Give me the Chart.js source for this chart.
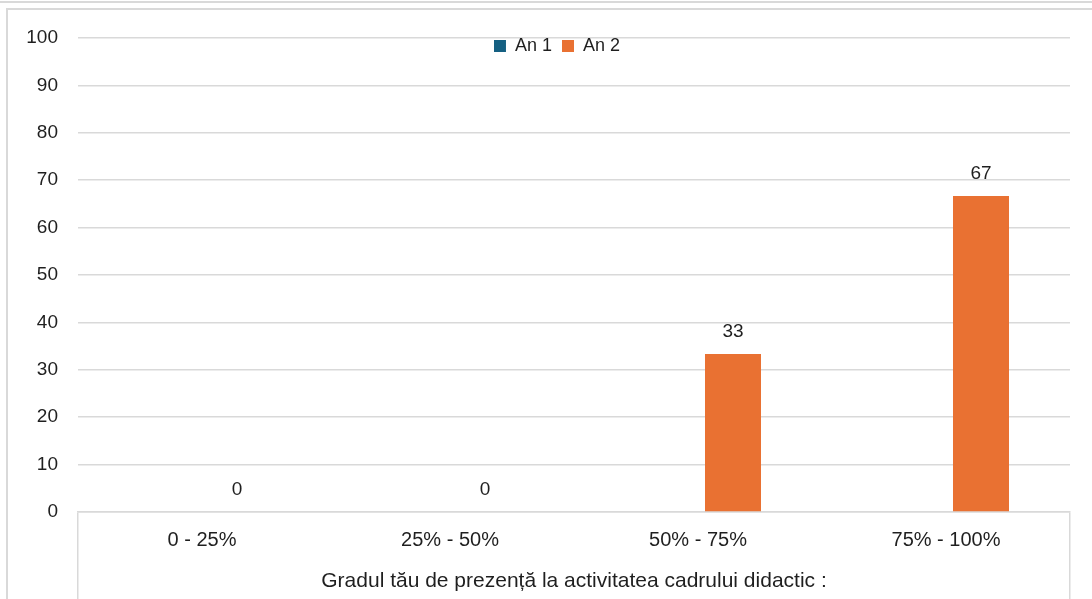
<!DOCTYPE html>
<html><head><meta charset="utf-8">
<script src="https://cdn.jsdelivr.net/npm/chart.js@4.4.1/dist/chart.umd.min.js"></script>
<style>
html,body{margin:0;padding:0;background:#fff;}
#wrap{position:relative;width:1092px;height:599px;overflow:hidden;background:#fff;}
#c{position:absolute;left:0;top:0;}
.line{position:absolute;background:#d9d9d9;pointer-events:none;}
</style></head><body>
<div id="wrap">
<canvas id="c" width="1092" height="599"></canvas>
<div class="line" style="left:0;top:1px;width:1092px;height:2px"></div>
<div class="line" style="left:6px;top:8px;width:1086px;height:2px"></div>
<div class="line" style="left:6px;top:8px;width:2px;height:591px"></div>
</div>
<script>
const categories = ['0 - 25%', '25% - 50%', '50% - 75%', '75% - 100%'];
const an1Values = [0, 0, 0, 0];
const an2Values = [0, 0, 33.33, 66.67];
const seriesNames = ['An 1', 'An 2'];
const axisTitle = 'Gradul tău de prezență la activitatea cadrului didactic :';
const yMin = 0, yMax = 100, yStep = 10;

const FONT = '"Liberation Sans", Arial, sans-serif';
const TEXT = '#1f1f1f';
const GRID = '#d9d9d9';

const legendShift = {
  id: 'legendShift',
  afterLayout(chart) {
    const lg = chart.legend;
    if (!lg) return;
    const dy = 27, dx = 22;
    lg.top += dy; lg.bottom += dy; lg.left += dx; lg.right += dx;
  }
};

const valueLabels = {
  id: 'valueLabels',
  afterDatasetsDraw(chart) {
    const meta = chart.getDatasetMeta(1);
    const ds = chart.data.datasets[1];
    const ctx = chart.ctx;
    ctx.save();
    ctx.font = '19px ' + FONT;
    ctx.fillStyle = TEXT;
    ctx.textAlign = 'center';
    ctx.textBaseline = 'alphabetic';
    meta.data.forEach((el, i) => {
      ctx.fillText(String(Math.round(ds.data[i])), el.x, el.y - 17);
    });
    ctx.restore();
  }
};

new Chart(document.getElementById('c'), {
  type: 'bar',
  data: {
    labels: categories,
    datasets: [
      { label: seriesNames[0], data: an1Values, backgroundColor: '#156082', borderWidth: 0 },
      { label: seriesNames[1], data: an2Values, backgroundColor: '#E97132', borderWidth: 0 }
    ]
  },
  options: {
    responsive: false,
    animation: false,
    events: [],
    layout: { padding: { left: 0, right: 22, top: 0, bottom: 0 } },
    datasets: { bar: { categoryPercentage: 0.5645, barPercentage: 0.8 } },
    plugins: {
      legend: {
        position: 'top',
        labels: { boxWidth: 12, boxHeight: 12, padding: 10, color: TEXT, font: { family: FONT, size: 18 } }
      },
      tooltip: { enabled: false }
    },
    scales: {
      x: {
        offset: true,
        grid: {
          offset: true,
          drawOnChartArea: false,
          drawTicks: true,
          tickLength: 87,
          lineWidth: 1.5,
          color: (c) => (c.index === 0 || c.index === undefined) ? GRID : 'rgba(0,0,0,0)'
        },
        border: { display: true, color: GRID, width: 1.5 },
        ticks: { padding: -71, color: TEXT, font: { family: FONT, size: 20 }, maxRotation: 0 },
        title: { display: true, text: axisTitle, color: TEXT, font: { family: FONT, size: 21 }, padding: { top: 0, bottom: 5 } },
        afterFit(s) { s.height = 87; }
      },
      y: {
        min: yMin, max: yMax,
        ticks: { stepSize: yStep, padding: 20, color: TEXT, font: { family: FONT, size: 19 } },
        grid: { color: GRID, lineWidth: 1.5, drawTicks: false },
        border: { display: false },
        afterFit(s) { s.width = 78; }
      }
    }
  },
  plugins: [legendShift, valueLabels]
});
</script>
</body></html>
